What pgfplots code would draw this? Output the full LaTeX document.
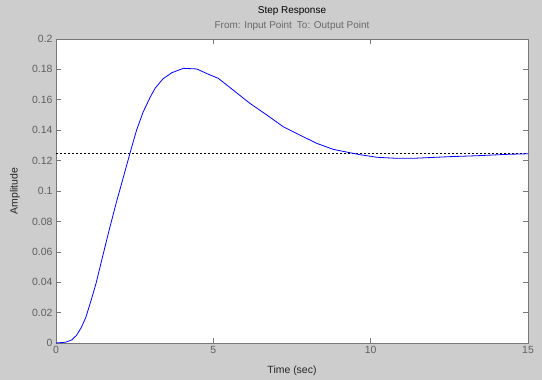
\documentclass[border=0pt]{standalone}
\usepackage{fontspec}
\setmainfont{Liberation Sans}
\usepackage{pgfplots}
\pgfplotsset{compat=1.18}
\definecolor{bggray}{RGB}{205,205,205}
\definecolor{axgray}{RGB}{120,120,120}
\definecolor{lblgray}{RGB}{95,95,95}
\definecolor{subgray}{RGB}{105,105,105}
\begin{document}
\begin{tikzpicture}
\path[use as bounding box, fill=bggray] (-56bp,-37bp) rectangle (486bp,343bp);
\begin{axis}[
  at={(0,0)}, anchor=south west,
  scale only axis, width=472bp, height=304bp,
  xmin=0, xmax=15, ymin=0, ymax=0.2,
  xtick={0,5,10,15},
  ytick={0,0.02,0.04,0.06,0.08,0.1,0.12,0.14,0.16,0.18,0.2},
  scaled y ticks=false,
  /pgf/number format/assume math mode=true,
  yticklabel style={/pgf/number format/fixed, /pgf/number format/precision=2},
  ticklabel style={font=\fontsize{10.5}{12}\selectfont, color=lblgray},
  axis background/.style={fill=white},
  axis line style={color=axgray, line width=0.8bp},
  tick style={color=axgray, line width=0.6bp},
  major tick length=5bp,
  tick align=inside,
  xlabel={Time (sec)},
  ylabel={Amplitude},
  label style={font=\fontsize{10.5}{12}\selectfont, color=black!85},
  xlabel style={at={(axis description cs:0.5,-0.0921)}, anchor=center},
  ylabel style={at={(axis description cs:-0.0869,0.5)}, anchor=center},
  title={Step Response\\{\color{subgray}From: Input Point\hspace{0.5em}To: Output Point}},
  title style={font=\fontsize{10}{14.5}\selectfont, align=center, at={(axis description cs:0.5,1)}, anchor=south, inner sep=0pt, yshift=2.5bp},
]
\addplot[black, dash pattern=on 2bp off 2bp, line width=0.7bp] coordinates {(0,0.125) (15,0.125)};
\addplot[blue, line width=0.8bp] coordinates {
(0,0) (0.3,0.0005) (0.5,0.002) (0.65,0.005) (0.8,0.010) (0.95,0.017) (1.1,0.027)
(1.27,0.039) (1.48,0.0568) (1.69,0.0743) (1.91,0.0919) (2.1,0.106) (2.35,0.1248)
(2.56,0.140) (2.77,0.152) (3.0,0.162) (3.15,0.1676) (3.4,0.1738) (3.68,0.1778)
(4.05,0.1807) (4.47,0.1803) (4.8,0.1772) (5.16,0.1741) (5.63,0.1664) (6.16,0.1577)
(6.7,0.150) (7.22,0.1423) (7.75,0.1368) (8.28,0.1314) (8.81,0.1274) (9.34,0.1252)
(9.66,0.1239) (10.19,0.1222) (10.83,0.1215) (11.35,0.1215) (12.52,0.1226)
(13.37,0.1232) (14.32,0.1241) (15,0.1245)
};
\end{axis}
\end{tikzpicture}
\end{document}
